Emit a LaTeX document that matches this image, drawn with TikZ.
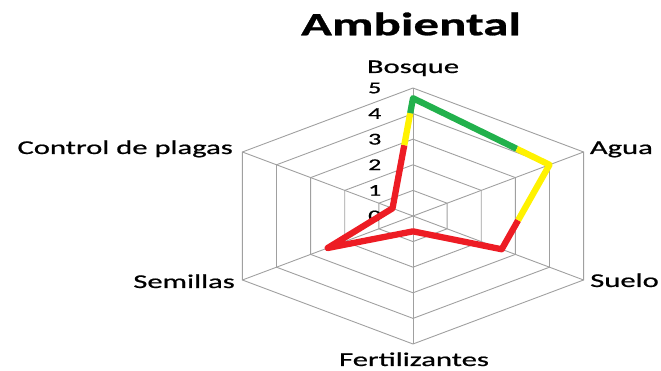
\documentclass[tikz,border=0pt]{standalone}
\usepackage{fontspec}
\setmainfont[FakeStretch=1.57,RawFeature={embolden=0.8}]{Carlito}
\usetikzlibrary{calc}
\definecolor{gridgray}{RGB}{160,160,160}
\definecolor{paintred}{RGB}{237,28,36}
\definecolor{paintyellow}{RGB}{255,242,0}
\definecolor{paintgreen}{RGB}{34,177,76}

\begin{document}
\begin{tikzpicture}
  \tikzset{grid line/.style={draw=gridgray,line width=0.9pt},
           axis label/.style={font=\fontsize{19.5}{20}\selectfont,inner sep=0pt},
           tick label/.style={font=\fontsize{16.5}{17}\selectfont,inner sep=0pt,anchor=east},
           data line/.style={line width=6.3pt,line join=round}}
  \useasboundingbox (0,0) rectangle (661pt,371pt);
  \node (title) [font=\fontsize{32.5}{34}\selectfont\bfseries,inner sep=0pt] at (411pt,347pt) {Ambiental};
  \begin{scope}[shift={(413pt,155pt)},x=39.4pt,y=25.6pt]
    % rings and spokes
    \foreach \r in {1,...,5}
      \draw[grid line] (90:\r) -- (30:\r) -- (-30:\r) -- (-90:\r) -- (-150:\r) -- (150:\r) -- cycle;
    \foreach \a in {90,30,...,-210}
      \draw[grid line] (0,0) -- (\a:5);
    % scale
    \foreach \r in {0,...,5}
      \node (tick\r) [tick label] at (-0.8,\r) {\r};
    % values
    \coordinate (dBosque) at (90:4.6);
    \coordinate (dAgua) at (30:4.0);
    \coordinate (dSuelo) at (-30:2.6);
    \coordinate (dFert) at (-90:0.6);
    \coordinate (dSemillas) at (210:2.5);
    \coordinate (dPlagas) at (150:0.6);
    \coordinate (cRY) at ($(dPlagas)!0.574!(dBosque)$);
    \coordinate (cYG) at ($(dPlagas)!0.865!(dBosque)$);
    \coordinate (cGY) at ($(dBosque)!0.76!(dAgua)$);
    \coordinate (cYR) at ($(dAgua)!0.656!(dSuelo)$);
    \draw[data line,paintred] (cRY) -- (dPlagas) -- (dSemillas) -- (dFert) -- (dSuelo) -- (cYR);
    \draw[data line,paintyellow] (cRY) -- (cYG);
    \draw[data line,paintgreen] (cYG) -- (dBosque) -- (cGY);
    \draw[data line,paintyellow] (cGY) -- (dAgua) -- (cYR);
  \end{scope}
  % axis names
  \node (lBosque) [axis label,anchor=base] at (413pt,298pt) {Bosque};
  \node (lAgua) [axis label,anchor=base east] at (653pt,217pt) {Agua};
  \node (lSuelo) [axis label,anchor=base east] at (659pt,84pt) {Suelo};
  \node (lFert) [axis label,anchor=base] at (414pt,5pt) {Fertilizantes};
  \node (lSemillas) [axis label,anchor=base east] at (235pt,83pt) {Semillas};
  \node (lPlagas) [axis label,anchor=base east] at (233pt,217pt) {Control de plagas};
\end{tikzpicture}
\end{document}
